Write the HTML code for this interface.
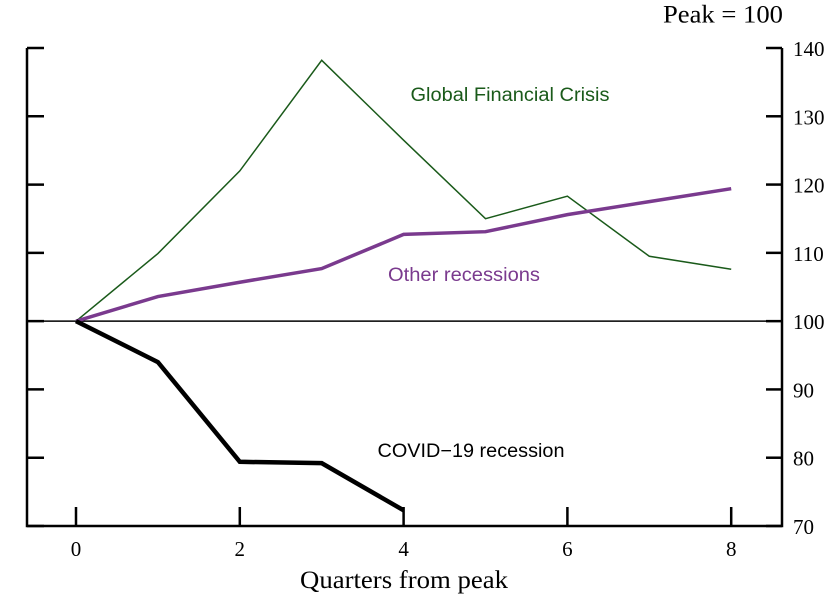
<!DOCTYPE html>
<html><head><meta charset="utf-8"><style>
body{margin:0;background:#fff}
svg{display:block}
.serif{font-family:"Liberation Serif",serif}
.sans{font-family:"Liberation Sans",sans-serif}
</style></head><body>
<svg id="chart" width="839" height="598">
<g id="axes"></g><g id="series"></g>
<text class="serif" x="783" y="23" text-anchor="end" font-size="23" textLength="120" lengthAdjust="spacingAndGlyphs" transform="translate(0,-3) scale(1,1.12)">Peak = 100</text>
<text class="serif" x="404" y="588" text-anchor="middle" font-size="25" textLength="208" lengthAdjust="spacingAndGlyphs">Quarters from peak</text>
<text class="sans" x="510" y="101" text-anchor="middle" font-size="19" textLength="199" lengthAdjust="spacingAndGlyphs" fill="#1a5a1a">Global Financial Crisis</text>
<text class="sans" x="464" y="281" text-anchor="middle" font-size="19" textLength="152" lengthAdjust="spacingAndGlyphs" fill="#7a3a8e">Other recessions</text>
<text class="sans" x="471" y="457" text-anchor="middle" font-size="19" textLength="187" lengthAdjust="spacingAndGlyphs" fill="#000">COVID−19 recession</text>
</svg>
<script>
const quarters=[0,1,2,3,4,5,6,7,8];
const gfc=[100,109.9,122,138.2,126.5,115,118.3,109.5,107.6];
const other=[100,103.6,105.7,107.7,112.7,113.1,115.6,117.5,119.4];
const covid=[100,94,79.4,79.2,72.3];
const yTicks=[70,80,90,100,110,120,130,140];
const xTicks=[0,2,4,6,8];
const NS="http://www.w3.org/2000/svg";
const X=q=>76+q*81.9;
const Y=v=>526-(v-70)*(526-48)/70;
const axes=document.getElementById('axes'),ser=document.getElementById('series');
function mk(p,tag,at){const e=document.createElementNS(NS,tag);for(const k in at)e.setAttribute(k,at[k]);p.appendChild(e);return e;}
let e;
e=mk(axes,'path',{d:`M27 48V526H782V48`,fill:'none',stroke:'#000','stroke-width':2.5});


e=mk(axes,'line',{x1:27,x2:782,y1:Y(100),y2:Y(100),stroke:'#000','stroke-width':1.5});


yTicks.forEach(v=>{
 e=mk(axes,'line',{x1:27,x2:44,y1:Y(v),y2:Y(v),stroke:'#000','stroke-width':2.5});
 
 
 e=mk(axes,'line',{x1:766,x2:782,y1:Y(v),y2:Y(v),stroke:'#000','stroke-width':2.5});
 
 
 e=mk(axes,'text',{x:793,y:Y(v)+8,'font-size':21,class:'serif'});e.textContent=v;
 
 
});
xTicks.forEach(q=>{
 e=mk(axes,'line',{x1:X(q),x2:X(q),y1:507,y2:526,stroke:'#000','stroke-width':2.5});
 
 
 e=mk(axes,'text',{x:X(q),y:556,'font-size':21,'text-anchor':'middle',class:'serif'});e.textContent=q;
 
 
});
function line(vals,col,w,name){
 const d=vals.map((v,i)=>(i?'L':'M')+X(quarters[i])+' '+Y(v)).join('');
 const p=mk(ser,'path',{d,fill:'none',stroke:col,'stroke-width':w,'stroke-linejoin':'miter'});
 
 
}
line(gfc,'#1a5a1a',1.5,'gfc-line');
line(other,'#7a3a8e',3.5,'other-recessions-line');
line(covid,'#000',4.5,'covid-line');
</script>
</body></html>
